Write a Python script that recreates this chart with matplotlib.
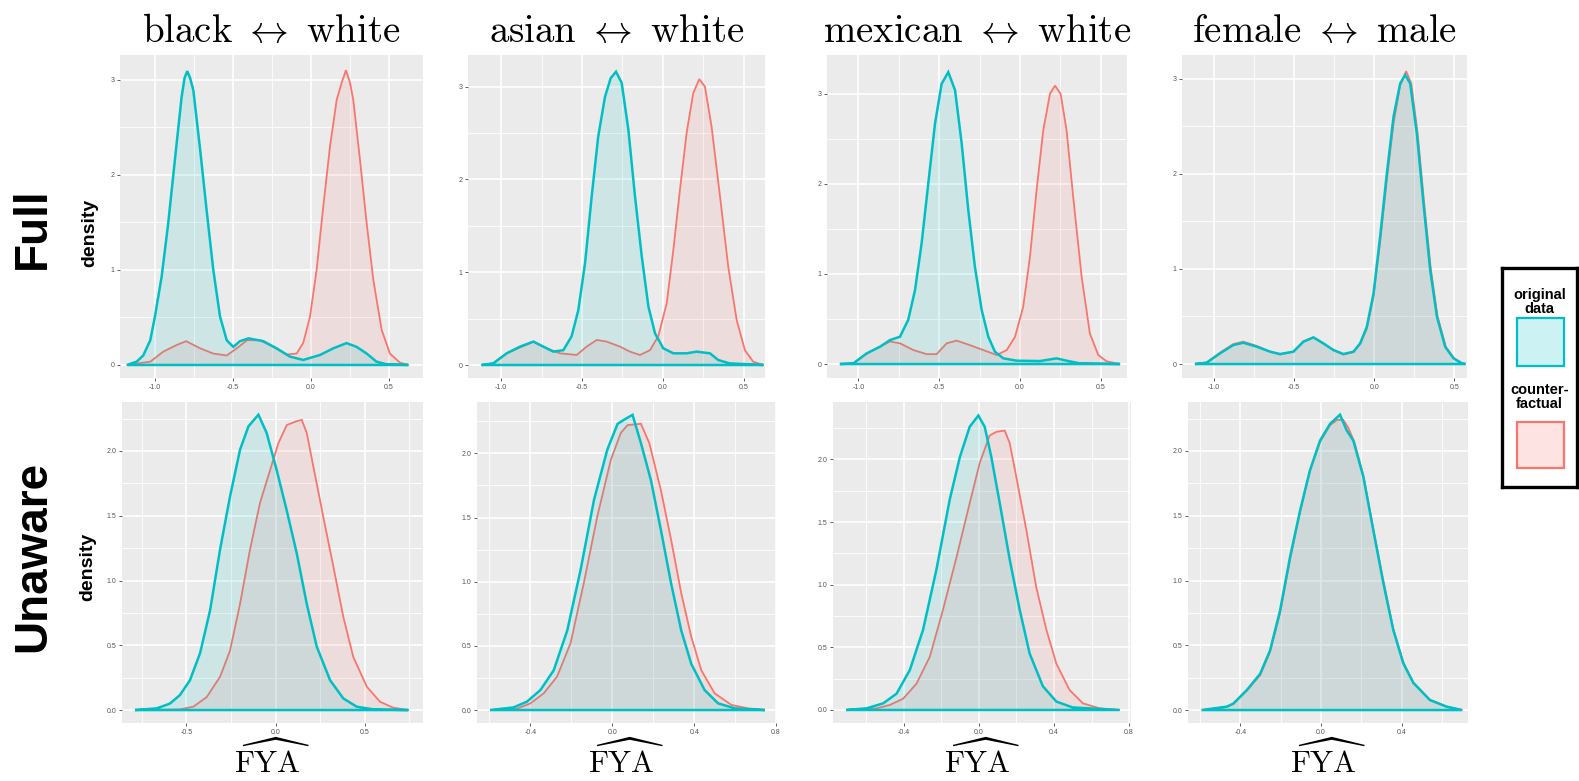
import numpy as np
import matplotlib
matplotlib.use('Agg')
import matplotlib.pyplot as plt
from matplotlib.ticker import MultipleLocator, FormatStrFormatter
from matplotlib.patches import Rectangle

plt.rcParams['mathtext.fontset'] = 'cm'
plt.rcParams['font.family'] = ['Liberation Sans', 'DejaVu Sans']
plt.rcParams['axes.unicode_minus'] = False

TEAL = '#00BFC4'
RED = '#F8766D'

titles = [r'$\mathrm{black}\ \leftrightarrow\ \mathrm{white}$',
          r'$\mathrm{asian}\ \leftrightarrow\ \mathrm{white}$',
          r'$\mathrm{mexican}\ \leftrightarrow\ \mathrm{white}$',
          r'$\mathrm{female}\ \leftrightarrow\ \mathrm{male}$']

# ---- Full model (top row) ----
bw_full_x_orig = [-1.18, -1.117, -1.075, -1.03, -1.0, -0.957, -0.915, -0.872, -0.829, -0.81, -0.793, -0.775, -0.754, -0.71,
                  -0.669, -0.626, -0.583, -0.54, -0.498, -0.455, -0.40, -0.305, -0.22, -0.135, -0.05, 0.058, 0.143,
                  0.228, 0.293, 0.357, 0.42, 0.485, 0.624]
bw_full_y_orig = [0, 0.035, 0.10, 0.26, 0.51, 0.93, 1.49, 2.16, 2.82, 3.02, 3.09, 3.02, 2.89, 2.26,
                  1.63, 1.0, 0.51, 0.26, 0.19, 0.25, 0.28, 0.25, 0.175, 0.088, 0.053, 0.105, 0.175,
                  0.23, 0.19, 0.12, 0.035, 0.007, 0]
bw_full_x_cf = [-1.18, -1.03, -0.947, -0.861, -0.80, -0.71, -0.626, -0.54, -0.476, -0.41, -0.327, -0.242, -0.156,
                -0.092, -0.05, -0.006, 0.036, 0.079, 0.122, 0.165, 0.197, 0.224, 0.25, 0.271, 0.314, 0.357, 0.40,
                0.453, 0.506, 0.57, 0.624]
bw_full_y_cf = [0, 0.035, 0.14, 0.21, 0.25, 0.175, 0.12, 0.10, 0.175, 0.26, 0.26, 0.19, 0.11,
                0.12, 0.23, 0.51, 1.0, 1.67, 2.3, 2.79, 2.97, 3.10, 2.97, 2.79, 2.16, 1.49, 0.89,
                0.37, 0.12, 0.025, 0]

aw_full_x_orig = [-1.12, -1.048, -0.965, -0.883, -0.80, -0.739, -0.677, -0.615, -0.564, -0.523, -0.481, -0.44,
                  -0.40, -0.358, -0.323, -0.29, -0.255, -0.214, -0.173, -0.131, -0.09, -0.049, 0.002, 0.064,
                  0.146, 0.208, 0.29, 0.341, 0.41, 0.62]
aw_full_y_orig = [0, 0.018, 0.126, 0.198, 0.252, 0.198, 0.144, 0.16, 0.31, 0.59, 1.10, 1.82,
                  2.46, 2.89, 3.09, 3.16, 3.04, 2.54, 1.82, 1.17, 0.63, 0.34, 0.18, 0.126,
                  0.126, 0.144, 0.126, 0.054, 0.018, 0]
aw_full_x_cf = [-1.12, -1.048, -0.965, -0.80, -0.718, -0.636, -0.533, -0.471, -0.409, -0.348, -0.265, -0.204,
                -0.142, -0.08, -0.029, 0.023, 0.064, 0.105, 0.146, 0.187, 0.224, 0.259, 0.30, 0.352, 0.403,
                0.455, 0.506, 0.557, 0.62]
aw_full_y_cf = [0, 0.018, 0.126, 0.252, 0.18, 0.126, 0.108, 0.198, 0.27, 0.252, 0.198, 0.144,
                0.108, 0.16, 0.31, 0.665, 1.24, 1.89, 2.50, 2.93, 3.08, 3.0, 2.57, 1.82, 1.06,
                0.485, 0.16, 0.036, 0]

mw_full_x_orig = [-1.115, -1.032, -0.949, -0.867, -0.805, -0.743, -0.692, -0.65, -0.609, -0.568, -0.526, -0.485,
                  -0.444, -0.402, -0.361, -0.32, -0.279, -0.237, -0.196, -0.155, -0.103, -0.02, 0.124, 0.227,
                  0.289, 0.371, 0.62]
mw_full_y_orig = [0, 0.007, 0.118, 0.192, 0.266, 0.303, 0.49, 0.82, 1.34, 2.0, 2.67, 3.11,
                  3.24, 3.04, 2.45, 1.71, 1.08, 0.6, 0.303, 0.137, 0.063, 0.037, 0.033, 0.063,
                  0.037, 0.007, 0]
mw_full_x_cf = [-1.115, -1.032, -0.949, -0.805, -0.743, -0.66, -0.578, -0.516, -0.454, -0.392, -0.31, -0.227,
                -0.144, -0.082, -0.031, 0.02, 0.062, 0.103, 0.144, 0.186, 0.217, 0.252, 0.289, 0.33, 0.382,
                0.433, 0.485, 0.537, 0.62]
mw_full_y_cf = [0, 0.007, 0.118, 0.25, 0.23, 0.155, 0.11, 0.11, 0.23, 0.26, 0.21, 0.155,
                0.10, 0.155, 0.30, 0.635, 1.19, 1.93, 2.59, 3.0, 3.09, 3.0, 2.59, 1.85, 0.97,
                0.34, 0.10, 0.03, 0]

fm_full_x_orig = [-1.119, -1.046, -0.9625, -0.879, -0.817, -0.733, -0.65, -0.5875, -0.504, -0.442, -0.379, -0.317,
                  -0.254, -0.192, -0.129, -0.0875, -0.046, -0.004, 0.0375, 0.079, 0.121, 0.1625, 0.194, 0.225,
                  0.267, 0.308, 0.35, 0.392, 0.444, 0.496, 0.548, 0.57]
fm_full_y_orig = [0, 0.014, 0.112, 0.2, 0.224, 0.182, 0.13, 0.105, 0.13, 0.234, 0.28, 0.217,
                  0.147, 0.105, 0.13, 0.217, 0.39, 0.74, 1.34, 2.0, 2.6, 2.95, 3.04, 2.95,
                  2.42, 1.69, 0.99, 0.50, 0.18, 0.06, 0.007, 0]
fm_full_x_cf = [-1.119, -1.046, -0.9625, -0.879, -0.817, -0.733, -0.65, -0.5875, -0.504, -0.442, -0.379, -0.317,
                -0.254, -0.192, -0.129, -0.0875, -0.046, -0.004, 0.0375, 0.079, 0.121, 0.1625, 0.20, 0.232,
                0.272, 0.312, 0.354, 0.396, 0.448, 0.50, 0.548, 0.57]
fm_full_y_cf = [0, 0.016, 0.12, 0.21, 0.235, 0.19, 0.13, 0.10, 0.13, 0.24, 0.28, 0.215,
                0.145, 0.10, 0.125, 0.21, 0.37, 0.71, 1.29, 1.93, 2.53, 2.93, 3.08, 2.95,
                2.42, 1.70, 1.00, 0.50, 0.18, 0.06, 0.008, 0]

# ---- Unaware model (bottom row) ----
bw_unaw_x_orig = [-0.788, -0.666, -0.592, -0.536, -0.48, -0.423, -0.367, -0.311, -0.255, -0.199, -0.152, -0.096,
                  -0.05, 0.007, 0.063, 0.119, 0.175, 0.231, 0.306, 0.38, 0.455, 0.549, 0.745]
bw_unaw_y_orig = [0, 0.013, 0.05, 0.116, 0.23, 0.44, 0.77, 1.24, 1.65, 2.01, 2.19, 2.28,
                  2.14, 1.85, 1.54, 1.21, 0.82, 0.49, 0.23, 0.09, 0.026, 0.005, 0]
bw_unaw_x_cf = [-0.788, -0.536, -0.461, -0.386, -0.311, -0.255, -0.199, -0.143, -0.087, -0.031, 0.016, 0.063,
                0.119, 0.147, 0.175, 0.212, 0.268, 0.324, 0.38, 0.436, 0.512, 0.586, 0.66, 0.745]
bw_unaw_y_cf = [0, 0.005, 0.026, 0.10, 0.257, 0.46, 0.82, 1.24, 1.60, 1.85, 2.06, 2.2,
                2.23, 2.24, 2.14, 1.88, 1.49, 1.11, 0.72, 0.41, 0.18, 0.064, 0.018, 0]

aw_unaw_x_orig = [-0.597, -0.483, -0.417, -0.351, -0.286, -0.22, -0.155, -0.089, -0.024, 0.026, 0.066, 0.099,
                  0.14, 0.189, 0.238, 0.287, 0.337, 0.386, 0.451, 0.517, 0.599, 0.746]
aw_unaw_y_orig = [0, 0.02, 0.065, 0.156, 0.31, 0.62, 1.09, 1.64, 2.03, 2.23, 2.27, 2.30,
                  2.08, 1.79, 1.40, 0.99, 0.62, 0.36, 0.156, 0.052, 0.013, 0]
aw_unaw_x_cf = [-0.597, -0.467, -0.40, -0.335, -0.27, -0.204, -0.139, -0.073, -0.007, 0.042, 0.075, 0.14,
                0.181, 0.238, 0.287, 0.337, 0.386, 0.435, 0.50, 0.582, 0.664, 0.746]
aw_unaw_y_cf = [0, 0.01, 0.052, 0.13, 0.26, 0.52, 0.99, 1.51, 1.95, 2.16, 2.22, 2.23,
                2.08, 1.71, 1.33, 0.91, 0.57, 0.31, 0.13, 0.04, 0.013, 0]

mw_unaw_x_orig = [-0.703, -0.596, -0.508, -0.437, -0.366, -0.296, -0.225, -0.154, -0.10, -0.048, -0.002, 0.032,
                  0.067, 0.112, 0.165, 0.218, 0.271, 0.341, 0.413, 0.50, 0.749]
mw_unaw_y_orig = [0, 0.013, 0.053, 0.13, 0.32, 0.64, 1.12, 1.68, 2.02, 2.26, 2.35, 2.26,
                  2.02, 1.65, 1.20, 0.80, 0.45, 0.19, 0.067, 0.02, 0]
mw_unaw_x_cf = [-0.703, -0.543, -0.473, -0.402, -0.331, -0.26, -0.19, -0.118, -0.048, 0.005, 0.058, 0.094,
                0.138, 0.165, 0.20, 0.253, 0.306, 0.36, 0.413, 0.483, 0.554, 0.643, 0.749]
mw_unaw_y_cf = [0, 0.013, 0.04, 0.09, 0.21, 0.425, 0.80, 1.22, 1.65, 1.97, 2.19, 2.22,
                2.23, 2.13, 1.86, 1.44, 0.98, 0.64, 0.37, 0.16, 0.053, 0.013, 0]

fm_unaw_x_orig = [-0.592, -0.468, -0.435, -0.368, -0.302, -0.253, -0.203, -0.154, -0.104, -0.055, -0.005, 0.045,
                  0.094, 0.127, 0.16, 0.21, 0.259, 0.309, 0.358, 0.408, 0.458, 0.54, 0.623, 0.70]
fm_unaw_y_orig = [0, 0.026, 0.05, 0.155, 0.28, 0.46, 0.77, 1.18, 1.54, 1.85, 2.08, 2.21,
                  2.28, 2.16, 2.08, 1.80, 1.39, 0.98, 0.62, 0.36, 0.21, 0.077, 0.026, 0]
fm_unaw_x_cf = [-0.592, -0.468, -0.435, -0.368, -0.302, -0.253, -0.203, -0.154, -0.104, -0.055, -0.005, 0.045,
                0.08, 0.11, 0.135, 0.165, 0.21, 0.259, 0.309, 0.358, 0.408, 0.458, 0.54, 0.623, 0.70]
fm_unaw_y_cf = [0, 0.024, 0.048, 0.15, 0.27, 0.45, 0.75, 1.16, 1.53, 1.85, 2.07, 2.20,
                2.24, 2.24, 2.18, 2.07, 1.81, 1.40, 1.0, 0.63, 0.37, 0.21, 0.08, 0.027, 0]

full_panels = [(bw_full_x_orig, bw_full_y_orig, bw_full_x_cf, bw_full_y_cf),
               (aw_full_x_orig, aw_full_y_orig, aw_full_x_cf, aw_full_y_cf),
               (mw_full_x_orig, mw_full_y_orig, mw_full_x_cf, mw_full_y_cf),
               (fm_full_x_orig, fm_full_y_orig, fm_full_x_cf, fm_full_y_cf)]
unaw_panels = [(bw_unaw_x_orig, bw_unaw_y_orig, bw_unaw_x_cf, bw_unaw_y_cf),
               (aw_unaw_x_orig, aw_unaw_y_orig, aw_unaw_x_cf, aw_unaw_y_cf),
               (mw_unaw_x_orig, mw_unaw_y_orig, mw_unaw_x_cf, mw_unaw_y_cf),
               (fm_unaw_x_orig, fm_unaw_y_orig, fm_unaw_x_cf, fm_unaw_y_cf)]

# layout (pixels of the 1579x781 canvas) and axis ranges
W, H = 1579, 781
top_cols = [(120, 423), (468, 765), (827, 1127), (1182, 1467)]
bot_cols = [(122, 423), (477, 776), (833, 1131), (1188, 1468)]
top_xlim = [(-1.224, 0.718), (-1.204, 0.63), (-1.195, 0.663), (-1.20, 0.58)]
top_ylim = [(-0.137, 3.26), (-0.14, 3.34), (-0.155, 3.43), (-0.147, 3.25)]
bot_xlim = [(-0.861, 0.827), (-0.661, 0.80), (-0.775, 0.81), (-0.66, 0.729)]
bot_ylim = [(-0.10, 2.378), (-0.101, 2.40), (-0.104, 2.458), (-0.10, 2.378)]


def style_axes(ax):
    ax.set_facecolor('#EBEBEB')
    for s in ax.spines.values():
        s.set_visible(False)
    ax.grid(which='major', color='white', lw=1.2)
    ax.grid(which='minor', color='white', lw=0.6)
    ax.set_axisbelow(True)
    ax.tick_params(which='major', length=2, width=0.6, color='#444444',
                   labelsize=5, labelcolor='#555555', pad=2)
    ax.tick_params(which='minor', length=0)


def draw_density(ax, x, y, color, lw):
    ax.fill(x, y, facecolor=color, alpha=0.12, edgecolor='none')
    ax.fill(x, y, facecolor='none', edgecolor=color, linewidth=lw)


fig = plt.figure(figsize=(W / 100, H / 100), dpi=100)

for i in range(4):
    # top row
    l, r = top_cols[i]
    ax = fig.add_axes([l / W, 1 - 378 / H, (r - l) / W, 323 / H])
    style_axes(ax)
    xo, yo, xc, yc = full_panels[i]
    draw_density(ax, xc, yc, RED, 1.3)
    draw_density(ax, xo, yo, TEAL, 1.8)
    ax.set_xlim(*top_xlim[i])
    ax.set_ylim(*top_ylim[i])
    ax.xaxis.set_major_locator(MultipleLocator(0.5))
    ax.xaxis.set_minor_locator(MultipleLocator(0.25))
    ax.yaxis.set_major_locator(MultipleLocator(1))
    ax.yaxis.set_minor_locator(MultipleLocator(0.5))
    ax.xaxis.set_major_formatter(FormatStrFormatter('%.1f'))
    ax.yaxis.set_major_formatter(FormatStrFormatter('%d'))
    fig.text((l + r) / 2 / W, 1 - 42 / H, titles[i], fontsize=28,
             ha='center', va='baseline')

    # bottom row
    l, r = bot_cols[i]
    ax = fig.add_axes([l / W, 1 - 723 / H, (r - l) / W, 321 / H])
    style_axes(ax)
    xo, yo, xc, yc = unaw_panels[i]
    draw_density(ax, xc, yc, RED, 1.3)
    draw_density(ax, xo, yo, TEAL, 1.8)
    ax.set_xlim(*bot_xlim[i])
    ax.set_ylim(*bot_ylim[i])
    step = 0.5 if i == 0 else 0.4
    ax.xaxis.set_major_locator(MultipleLocator(step))
    ax.xaxis.set_minor_locator(MultipleLocator(step / 2))
    ax.yaxis.set_major_locator(MultipleLocator(0.5))
    ax.yaxis.set_minor_locator(MultipleLocator(0.25))
    ax.xaxis.set_major_formatter(FormatStrFormatter('%.1f'))
    ax.yaxis.set_major_formatter(FormatStrFormatter('%.1f'))
    fig.text((l + r) / 2 / W, 1 - 773 / H, r'$\widehat{\mathrm{FYA}}$',
             fontsize=22, ha='center', va='baseline')

# row labels and y labels
fig.text(33 / W, 1 - 228 / H, 'Full', rotation=90, fontsize=33,
         fontweight='bold', ha='center', va='center')
fig.text(33 / W, 1 - 556 / H, 'Unaware', rotation=90, fontsize=33,
         fontweight='bold', ha='center', va='center')
fig.text(90 / W, 1 - 233 / H, 'density', rotation=90, fontsize=14,
         fontweight='bold', ha='center', va='center')
fig.text(88 / W, 1 - 567 / H, 'density', rotation=90, fontsize=14,
         fontweight='bold', ha='center', va='center')

# legend box
lax = fig.add_axes([1502 / W, 1 - 487 / H, 75 / W, 219 / H])
lax.set_xlim(0, 75)
lax.set_ylim(219, 0)
lax.set_xticks([])
lax.set_yticks([])
for s in lax.spines.values():
    s.set_linewidth(2.4)
    s.set_color('black')
lax.add_patch(Rectangle((15, 50), 47, 48, facecolor=TEAL, alpha=0.2, edgecolor='none'))
lax.add_patch(Rectangle((15, 50), 47, 48, facecolor='none', edgecolor=TEAL, lw=1.6))
lax.add_patch(Rectangle((15, 154), 47, 46, facecolor=RED, alpha=0.2, edgecolor='none'))
lax.add_patch(Rectangle((15, 154), 47, 46, facecolor='none', edgecolor=RED, lw=1.6))
lax.text(37.5, 34, 'original\ndata', fontsize=10.5, fontweight='bold',
         ha='center', va='center', linespacing=1.0)
lax.text(37.5, 129, 'counter-\nfactual', fontsize=10.5, fontweight='bold',
         ha='center', va='center', linespacing=1.0)

plt.savefig('out.png', dpi=100)
